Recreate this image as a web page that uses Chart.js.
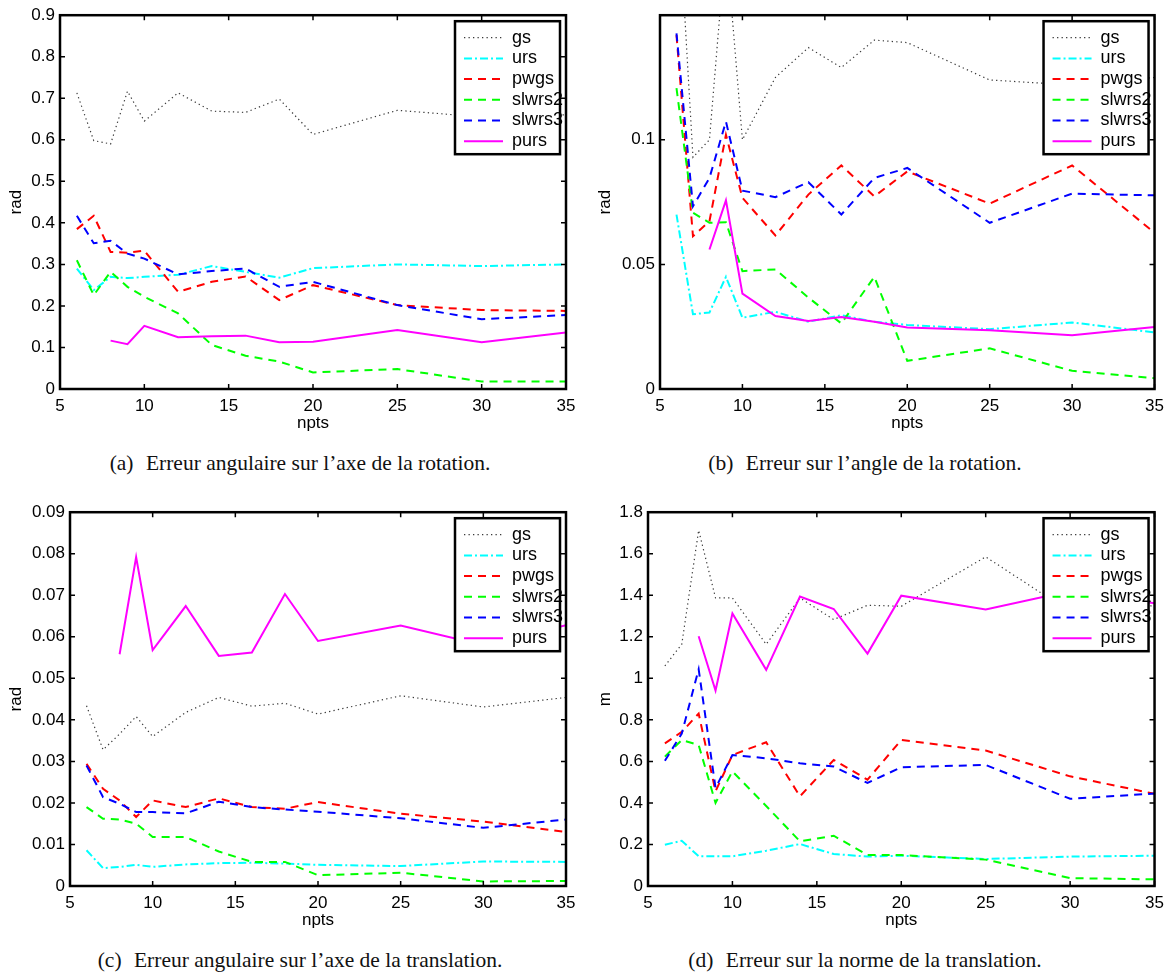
<!DOCTYPE html>
<html>
<head>
<meta charset="utf-8">
<script src="https://cdn.jsdelivr.net/npm/chart.js@4.4.1/dist/chart.umd.min.js"></script>
<style>
  body { margin: 0; background: #fff; }
  #page { position: relative; width: 1171px; height: 975px; overflow: hidden; }
  canvas { position: absolute; }
  .cap {
    position: absolute; text-align: center; white-space: nowrap;
    font-family: "Liberation Serif", "DejaVu Serif", serif; font-size: 21.5px; color: #111;
  }
  .cap span { margin-right: 7px; }
</style>
</head>
<body>
<div id="page">
  <canvas id="chartA" width="585" height="440" style="left:0;top:0"></canvas>
  <canvas id="chartB" width="586" height="440" style="left:585px;top:0"></canvas>
  <canvas id="chartC" width="585" height="440" style="left:0;top:497px"></canvas>
  <canvas id="chartD" width="586" height="440" style="left:585px;top:497px"></canvas>
  <div class="cap" style="left:0;width:600px;top:451px"><span>(a)</span> Erreur angulaire sur l’axe de la rotation.</div>
  <div class="cap" style="left:565px;width:600px;top:451px"><span>(b)</span> Erreur sur l’angle de la rotation.</div>
  <div class="cap" style="left:0;width:600px;top:948px"><span>(c)</span> Erreur angulaire sur l’axe de la translation.</div>
  <div class="cap" style="left:565px;width:600px;top:948px"><span>(d)</span> Erreur sur la norme de la translation.</div>
</div>
<script>
// number of points used
const npts = [6, 7, 8, 9, 10, 12, 14, 16, 18, 20, 25, 30, 35];
const seriesNames = ['gs', 'urs', 'pwgs', 'slwrs2', 'slwrs3', 'purs'];

// (a) angular error on the rotation axis
const gsA = [0.713, 0.598, 0.590, 0.717, 0.645, 0.713, 0.669, 0.666, 0.698, 0.613, 0.671, 0.655, 0.660];
const ursA = [0.290, 0.238, 0.270, 0.267, 0.270, 0.275, 0.296, 0.282, 0.268, 0.291, 0.300, 0.296, 0.300];
const pwgsA = [0.385, 0.417, 0.330, 0.328, 0.333, 0.234, 0.258, 0.271, 0.214, 0.250, 0.202, 0.190, 0.188];
const slwrs2A = [0.310, 0.226, 0.282, 0.246, 0.222, 0.182, 0.106, 0.080, 0.066, 0.040, 0.048, 0.018, 0.018];
const slwrs3A = [0.417, 0.351, 0.357, 0.326, 0.314, 0.276, 0.284, 0.290, 0.246, 0.258, 0.202, 0.168, 0.178];
const pursA = [null, null, 0.1165, 0.108, 0.152, 0.1245, 0.127, 0.1285, 0.1125, 0.114, 0.142, 0.1125, 0.136];

// (b) error on the rotation angle
const gsB = [0.207, 0.093, 0.100, 0.180, 0.100, 0.125, 0.137, 0.129, 0.140, 0.139, 0.124, 0.122, 0.125];
const ursB = [0.070, 0.030, 0.0307, 0.045, 0.0286, 0.031, 0.027, 0.0296, 0.027, 0.0257, 0.024, 0.0267, 0.0227];
const pwgsB = [0.142, 0.0613, 0.0673, 0.102, 0.0767, 0.0616, 0.078, 0.0897, 0.0773, 0.0873, 0.0744, 0.0897, 0.0627];
const slwrs2B = [0.1207, 0.0707, 0.0667, 0.0669, 0.0473, 0.048, 0.0367, 0.0263, 0.045, 0.0113, 0.0163, 0.0073, 0.0043];
const slwrs3B = [0.1427, 0.0733, 0.0847, 0.1073, 0.0796, 0.077, 0.083, 0.070, 0.0847, 0.0887, 0.0667, 0.0784, 0.0777];
const pursB = [null, null, 0.056, 0.0757, 0.0383, 0.0293, 0.0273, 0.0289, 0.027, 0.0247, 0.0236, 0.0216, 0.0249];

// (c) angular error on the translation axis
const gsC = [0.0434, 0.0328, 0.0366, 0.0408, 0.036, 0.0418, 0.0454, 0.0433, 0.044, 0.0414, 0.0458, 0.0431, 0.0454];
const ursC = [0.0086, 0.0043, 0.0046, 0.0051, 0.0046, 0.0052, 0.0055, 0.0056, 0.0054, 0.0051, 0.0048, 0.0059, 0.0058];
const pwgsC = [0.0294, 0.0234, 0.0206, 0.0166, 0.0206, 0.019, 0.0211, 0.019, 0.0186, 0.0202, 0.0174, 0.0155, 0.013];
const slwrs2C = [0.019, 0.0162, 0.016, 0.015, 0.0118, 0.0118, 0.0083, 0.0058, 0.0058, 0.0026, 0.0032, 0.0011, 0.0012];
const slwrs3C = [0.029, 0.0214, 0.0198, 0.0178, 0.0178, 0.0175, 0.0203, 0.019, 0.0184, 0.0179, 0.0163, 0.014, 0.016];
const pursC = [null, null, 0.0558, 0.0792, 0.0568, 0.0674, 0.0554, 0.0562, 0.0703, 0.059, 0.0627, 0.058, 0.0628];

// (d) error on the translation norm
const gsD = [1.06, 1.164, 1.713, 1.387, 1.387, 1.164, 1.387, 1.283, 1.352, 1.347, 1.585, 1.32, 1.35];
const ursD = [0.199, 0.218, 0.143, 0.143, 0.143, 0.17, 0.202, 0.154, 0.1415, 0.146, 0.13, 0.1415, 0.146];
const pwgsD = [0.687, 0.742, 0.83, 0.456, 0.631, 0.692, 0.432, 0.607, 0.512, 0.703, 0.652, 0.528, 0.444];
const slwrs2D = [0.623, 0.703, 0.679, 0.40, 0.552, 0.385, 0.215, 0.242, 0.149, 0.149, 0.127, 0.038, 0.032];
const slwrs3D = [0.603, 0.734, 1.044, 0.472, 0.631, 0.615, 0.591, 0.575, 0.496, 0.572, 0.583, 0.42, 0.445];
const pursD = [null, null, 1.203, 0.941, 1.312, 1.041, 1.394, 1.334, 1.119, 1.398, 1.331, 1.42, 1.362];

// line styles, same order as seriesNames
const lineStyles = [
  { color: '#3a3a3a', width: 1.2, dash: [1.3, 3.2] },
  { color: '#00ffff', width: 2, dash: [8, 3, 2, 3] },
  { color: '#ff0000', width: 2, dash: [8, 6] },
  { color: '#00ff00', width: 2, dash: [8, 6] },
  { color: '#0000ff', width: 2, dash: [8, 6] },
  { color: '#ff00ff', width: 2, dash: [] }
];

const FONT = '"Liberation Sans", Arial, Helvetica, sans-serif';

function drawLegend(chart) {
  const { ctx, chartArea: a } = chart;
  const w = 105, h = 133;
  const bx = a.right - 6 - w, by = a.top + 6;
  ctx.save();
  ctx.fillStyle = '#fff';
  ctx.fillRect(bx, by, w, h);
  ctx.lineWidth = 2.5;
  ctx.strokeStyle = '#000';
  ctx.strokeRect(bx, by, w, h);
  ctx.beginPath();
  ctx.rect(a.left, a.top, a.width, a.height);
  ctx.clip();
  chart.data.datasets.forEach((ds, i) => {
    const yy = by + 16.5 + i * 20.7;
    ctx.strokeStyle = ds.borderColor;
    ctx.lineWidth = ds.borderWidth;
    ctx.setLineDash(ds.borderDash);
    ctx.beginPath();
    ctx.moveTo(bx + 9, yy);
    ctx.lineTo(bx + 48, yy);
    ctx.stroke();
    ctx.setLineDash([]);
    ctx.fillStyle = '#000';
    ctx.font = '18px ' + FONT;
    ctx.textBaseline = 'middle';
    ctx.fillText(ds.label, bx + 57, yy);
  });
  ctx.restore();
}

// white legend + black box with inward ticks, like the original figure
const matlabAxes = {
  id: 'matlabAxes',
  afterDatasetsDraw(chart) {
    const { ctx, chartArea: a, scales: { x, y } } = chart;
    drawLegend(chart);
    ctx.save();
    ctx.strokeStyle = '#000';
    ctx.lineWidth = 1.5;
    ctx.beginPath();
    x.ticks.forEach(t => {
      const px = x.getPixelForValue(t.value);
      ctx.moveTo(px, a.bottom); ctx.lineTo(px, a.bottom - 5);
      ctx.moveTo(px, a.top); ctx.lineTo(px, a.top + 5);
    });
    y.ticks.forEach(t => {
      const py = y.getPixelForValue(t.value);
      ctx.moveTo(a.left, py); ctx.lineTo(a.left + 5, py);
      ctx.moveTo(a.right, py); ctx.lineTo(a.right - 5, py);
    });
    ctx.stroke();
    ctx.lineWidth = 2.5;
    ctx.strokeRect(a.left, a.top, a.width, a.height);
    ctx.restore();
  }
};

function makeChart(id, series, yOpts, layoutOpts) {
  const datasets = series.map((vals, i) => ({
    label: seriesNames[i],
    data: npts.map((n, k) => ({ x: n, y: vals[k] })),
    borderColor: lineStyles[i].color,
    borderWidth: lineStyles[i].width,
    borderDash: lineStyles[i].dash,
    pointRadius: 0,
    tension: 0,
    fill: false,
    order: series.length - i
  }));
  return new Chart(document.getElementById(id), {
    type: 'line',
    data: { datasets },
    options: {
      responsive: false,
      animation: false,
      events: [],
      layout: { padding: { top: 13.5, right: layoutOpts.right, bottom: 6, left: 0 } },
      plugins: { legend: { display: false }, tooltip: { enabled: false } },
      scales: {
        x: {
          type: 'linear',
          min: 5, max: 35,
          grid: { display: false, drawTicks: false },
          border: { display: false },
          ticks: { stepSize: 5, padding: 7, color: '#000', font: { family: FONT, size: 17 } },
          title: { display: true, text: 'npts', color: '#000', font: { family: FONT, size: 17 }, padding: 0 },
          afterFit: s => { s.height = 45; }
        },
        y: {
          min: 0, max: yOpts.max,
          grid: { display: false, drawTicks: false },
          border: { display: false },
          ticks: {
            stepSize: yOpts.step, padding: 5, color: '#000', font: { family: FONT, size: 17 },
            callback: v => (yOpts.hideTop && Math.abs(v - yOpts.max) < 1e-9) ? '' : String(Number(v.toFixed(4)))
          },
          title: { display: true, text: yOpts.title, color: '#000', font: { family: FONT, size: 17 }, padding: { top: layoutOpts.titlePad, bottom: 0 } },
          afterFit: s => { s.width = layoutOpts.left; }
        }
      }
    },
    plugins: [matlabAxes]
  });
}

makeChart('chartA', [gsA, ursA, pwgsA, slwrs2A, slwrs3A, pursA],
  { max: 0.9, step: 0.1, title: 'rad' }, { left: 60, right: 19, titlePad: 6.5 });
makeChart('chartB', [gsB, ursB, pwgsB, slwrs2B, slwrs3B, pursB],
  { max: 0.15, step: 0.05, title: 'rad', hideTop: true }, { left: 75, right: 14, titlePad: 10.5 });
makeChart('chartC', [gsC, ursC, pwgsC, slwrs2C, slwrs3C, pursC],
  { max: 0.09, step: 0.01, title: 'rad' }, { left: 70, right: 19, titlePad: 6.5 });
makeChart('chartD', [gsD, ursD, pwgsD, slwrs2D, slwrs3D, pursD],
  { max: 1.8, step: 0.2, title: 'm' }, { left: 63, right: 14, titlePad: 10.5 });
</script>
</body>
</html>
